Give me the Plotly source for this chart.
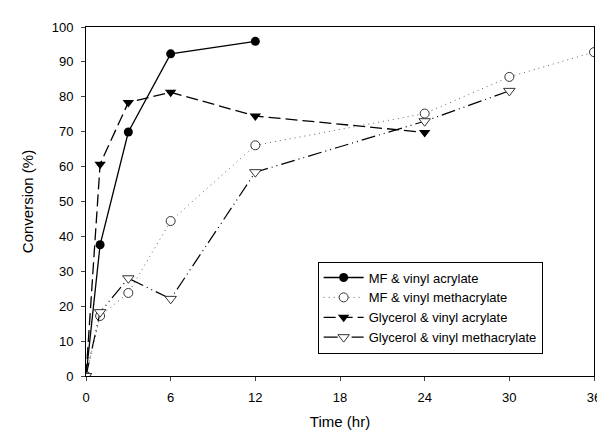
import plotly.graph_objects as go

t_mf_va = [0, 1, 3, 6, 12]
c_mf_va = [0, 37.6, 69.9, 92.3, 95.9]
t_mf_vm = [0, 1, 3, 6, 12, 24, 30, 36]
c_mf_vm = [0, 17.2, 23.8, 44.4, 66.1, 75.2, 85.7, 92.8]
t_gl_va = [0, 1, 3, 6, 12, 24]
c_gl_va = [0, 60.7, 78.4, 81.3, 74.5, 69.8]
t_gl_vm = [0, 1, 3, 6, 12, 24, 30]
c_gl_vm = [0, 18.3, 28.0, 22.1, 58.4, 73.0, 81.7]

x_ticks = [0, 6, 12, 18, 24, 30, 36]
y_ticks = [0, 10, 20, 30, 40, 50, 60, 70, 80, 90, 100]

fig = go.Figure()
fig.add_trace(go.Scatter(x=t_mf_va, y=c_mf_va, name="MF & vinyl acrylate", mode="lines+markers",
                         line=dict(color="black", width=1.3, dash="solid"),
                         marker=dict(symbol="circle", size=9, color="black")))
fig.add_trace(go.Scatter(x=t_gl_va, y=c_gl_va, name="Glycerol & vinyl acrylate", mode="lines+markers",
                         line=dict(color="black", width=1.3, dash="12px,5px"),
                         marker=dict(symbol="triangle-down", size=10, color="black")))
fig.add_trace(go.Scatter(x=t_mf_vm, y=c_mf_vm, name="MF & vinyl methacrylate", mode="lines+markers",
                         line=dict(color="#666666", width=1, dash="1px,4px"),
                         marker=dict(symbol="circle", size=9, color="white",
                                     line=dict(width=1, color="#333333"))))
fig.add_trace(go.Scatter(x=t_gl_vm, y=c_gl_vm, name="Glycerol & vinyl methacrylate", mode="lines+markers",
                         line=dict(color="black", width=1.2, dash="14px,4px,1px,4px,1px,4px"),
                         marker=dict(symbol="triangle-down", size=10, color="white",
                                     line=dict(width=1, color="#333333"))))

fig.update_layout(
    width=605, height=431,
    margin=dict(l=78, r=14, t=14, b=63),
    plot_bgcolor="white", paper_bgcolor="white",
    font=dict(family="Liberation Sans, Arial, sans-serif", size=13, color="black"),
    showlegend=True,
    legend=dict(x=0.456, y=0.328, xanchor="left", yanchor="top",
                bordercolor="black", borderwidth=1, bgcolor="white",
                font=dict(size=13), tracegroupgap=0, itemwidth=40,
                traceorder="normal"),
)
fig.update_xaxes(range=[0, 36], tickvals=x_ticks, ticks="outside", ticklen=4,
                 ticklabelstandoff=5, tickfont=dict(size=13),
                 showline=True, linecolor="black", linewidth=1, mirror=True,
                 showgrid=False, zeroline=False,
                 title=dict(text="Time (hr)", font=dict(size=15), standoff=12))
fig.update_yaxes(range=[0, 100], tickvals=y_ticks, ticks="outside", ticklen=4,
                 ticklabelstandoff=5, tickfont=dict(size=13),
                 showline=True, linecolor="black", linewidth=1, mirror=True,
                 showgrid=False, zeroline=False,
                 title=dict(text="Conversion (%)", font=dict(size=15), standoff=14))

# legend order as in reference
order = ["MF & vinyl acrylate", "MF & vinyl methacrylate",
         "Glycerol & vinyl acrylate", "Glycerol & vinyl methacrylate"]
for tr in fig.data:
    tr.legendrank = order.index(tr.name) + 1

fig.write_html("out.html")
